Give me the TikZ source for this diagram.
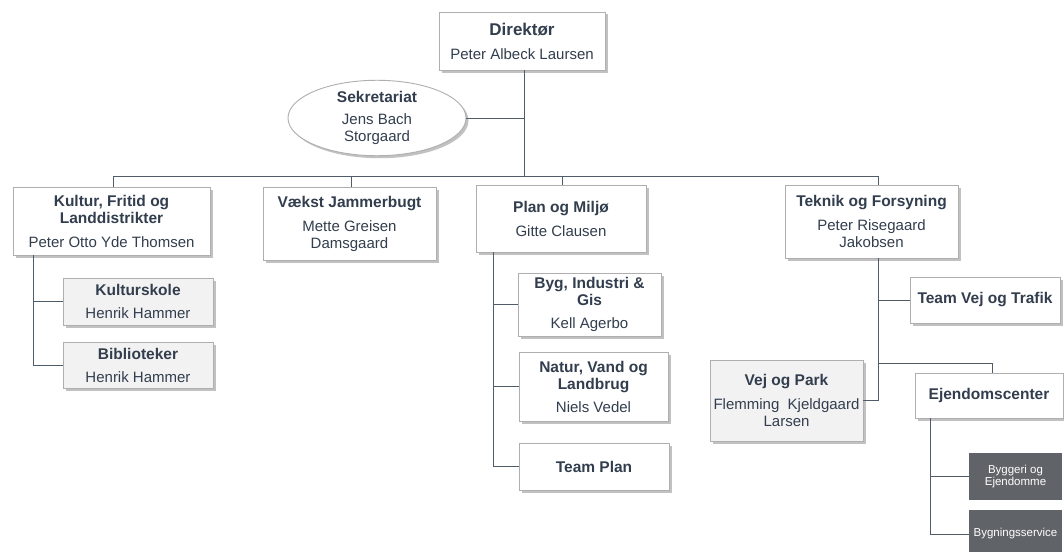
\documentclass[tikz,border=0pt]{standalone}
\usepackage{fontspec}
\setmainfont{Liberation Sans}
\usetikzlibrary{shapes.geometric,shadows}
\definecolor{txt}{RGB}{50,62,78}
\definecolor{ln}{RGB}{80,92,104}
\definecolor{bd}{RGB}{175,175,175}
\definecolor{lg}{RGB}{242,242,242}
\definecolor{dk}{RGB}{96,99,103}
\newcommand{\ttl}[1]{{\fontsize{15.5}{17}\selectfont\bfseries #1}}
\tikzset{
  box/.style={draw=bd, line width=0.9pt, fill=white, inner sep=0pt, align=center, text=txt,
    font=\fontsize{15}{17}\selectfont,
    drop shadow={shadow xshift=2.5pt, shadow yshift=-2.5pt, fill=black!40, opacity=0.6}},
  greybox/.style={box, fill=lg},
  darkbox/.style={fill=dk, draw=none, inner sep=0pt, align=center, text=white,
    font=\fontsize{11.5}{12}\selectfont},
  conn/.style={draw=ln, line width=1pt}
}
\begin{document}
\begin{tikzpicture}[x=1pt,y=-1pt]
\useasboundingbox[fill=white] (0,0) rectangle (1064,551);
% nodes
\node[box, minimum width=166pt, minimum height=58pt] (dir) at (522,41)
  {{\fontsize{17}{17}\selectfont\bfseries Direktør}\\[7pt]Peter Albeck Laursen};
\node[box, ellipse, minimum width=178pt, minimum height=70pt] (sek) at (377,118)
  {\ttl{Sekretariat}\\[5pt]Jens Bach\\Storgaard};
\node[box, minimum width=197pt, minimum height=68pt] (kultur) at (111.5,221)
  {\ttl{Kultur, Fritid og}\\\ttl{Landdistrikter}\\[7pt]Peter Otto Yde Thomsen};
\node[box, minimum width=173pt, minimum height=73pt] (vaekst) at (349.5,223.5)
  {\ttl{Vækst Jammerbugt}\\[7pt]Mette Greisen\\Damsgaard};
\node[box, minimum width=170pt, minimum height=67pt] (plan) at (561,218.5)
  {\ttl{Plan og Miljø}\\[7pt]Gitte Clausen};
\node[box, minimum width=173pt, minimum height=73pt] (teknik) at (871.5,221.5)
  {\ttl{Teknik og Forsyning}\\[7pt]Peter Risegaard\\Jakobsen};
\node[greybox, minimum width=150pt, minimum height=47pt] (ks) at (138,301.5)
  {\ttl{Kulturskole}\\[6pt]Henrik Hammer};
\node[greybox, minimum width=150pt, minimum height=46pt] (bib) at (138,365)
  {\ttl{Biblioteker}\\[6pt]Henrik Hammer};
\node[box, minimum width=143pt, minimum height=63pt] (byg) at (589.5,304.5)
  {\ttl{Byg, Industri \&}\\\ttl{Gis}\\[6pt]Kell Agerbo};
\node[box, minimum width=149pt, minimum height=69pt] (natur) at (593.5,386.5)
  {\ttl{Natur, Vand og}\\\ttl{Landbrug}\\[6pt]Niels Vedel};
\node[box, minimum width=150pt, minimum height=47pt] (tp) at (594,466.5)
  {\ttl{Team Plan}};
\node[box, minimum width=150pt, minimum height=46pt] (tv) at (985,300)
  {\ttl{Team Vej og Trafik}};
\node[greybox, minimum width=153pt, minimum height=81pt] (vp) at (786.5,400.5)
  {\ttl{Vej og Park}\\[7pt]Flemming\ \ Kjeldgaard\\Larsen};
\node[box, minimum width=148pt, minimum height=45pt] (ejd) at (989,395.5)
  {\ttl{Ejendomscenter}};
\node[darkbox, minimum width=93pt, minimum height=47pt] (bye) at (1015.5,476.5)
  {Byggeri og\\Ejendomme};
\node[darkbox, minimum width=93pt, minimum height=48pt] (bs) at (1015.5,534)
  {Bygningsservice};
% coordinates
\coordinate (mj) at (524,176);
\coordinate (bk) at (113,176);
\coordinate (bv) at (351,176);
\coordinate (bp) at (562,176);
\coordinate (bt) at (878,176);
\coordinate (kc) at (33,0);
\coordinate (pc) at (493,0);
\coordinate (ec) at (930,0);
\coordinate (ejb) at (878,363);
\coordinate (ejx) at (992,363);
% connectors
\draw[conn] (dir.south -| mj) -- (mj);
\draw[conn] (sek.east) -- (sek.east -| mj);
\draw[conn] (bk) -- (bt);
\draw[conn] (bk) -- (bk |- kultur.north);
\draw[conn] (bv) -- (bv |- vaekst.north);
\draw[conn] (bp) -- (bp |- plan.north);
\draw[conn] (bt) -- (bt |- teknik.north);
\draw[conn] (kultur.south -| kc) -- (kc |- bib.west) -- (bib.west);
\draw[conn] (kc |- ks.west) -- (ks.west);
\draw[conn] (plan.south -| pc) -- (pc |- tp.west) -- (tp.west);
\draw[conn] (pc |- byg.west) -- (byg.west);
\draw[conn] (pc |- natur.west) -- (natur.west);
\draw[conn] (teknik.south -| bt) -- (bt |- vp.east) -- (vp.east);
\draw[conn] (bt |- tv.west) -- (tv.west);
\draw[conn] (ejb) -- (ejx) -- (ejx |- ejd.north);
\draw[conn] (ejd.south -| ec) -- (ec |- bs.west) -- (bs.west);
\draw[conn] (ec |- bye.west) -- (bye.west);
\end{tikzpicture}
\end{document}
